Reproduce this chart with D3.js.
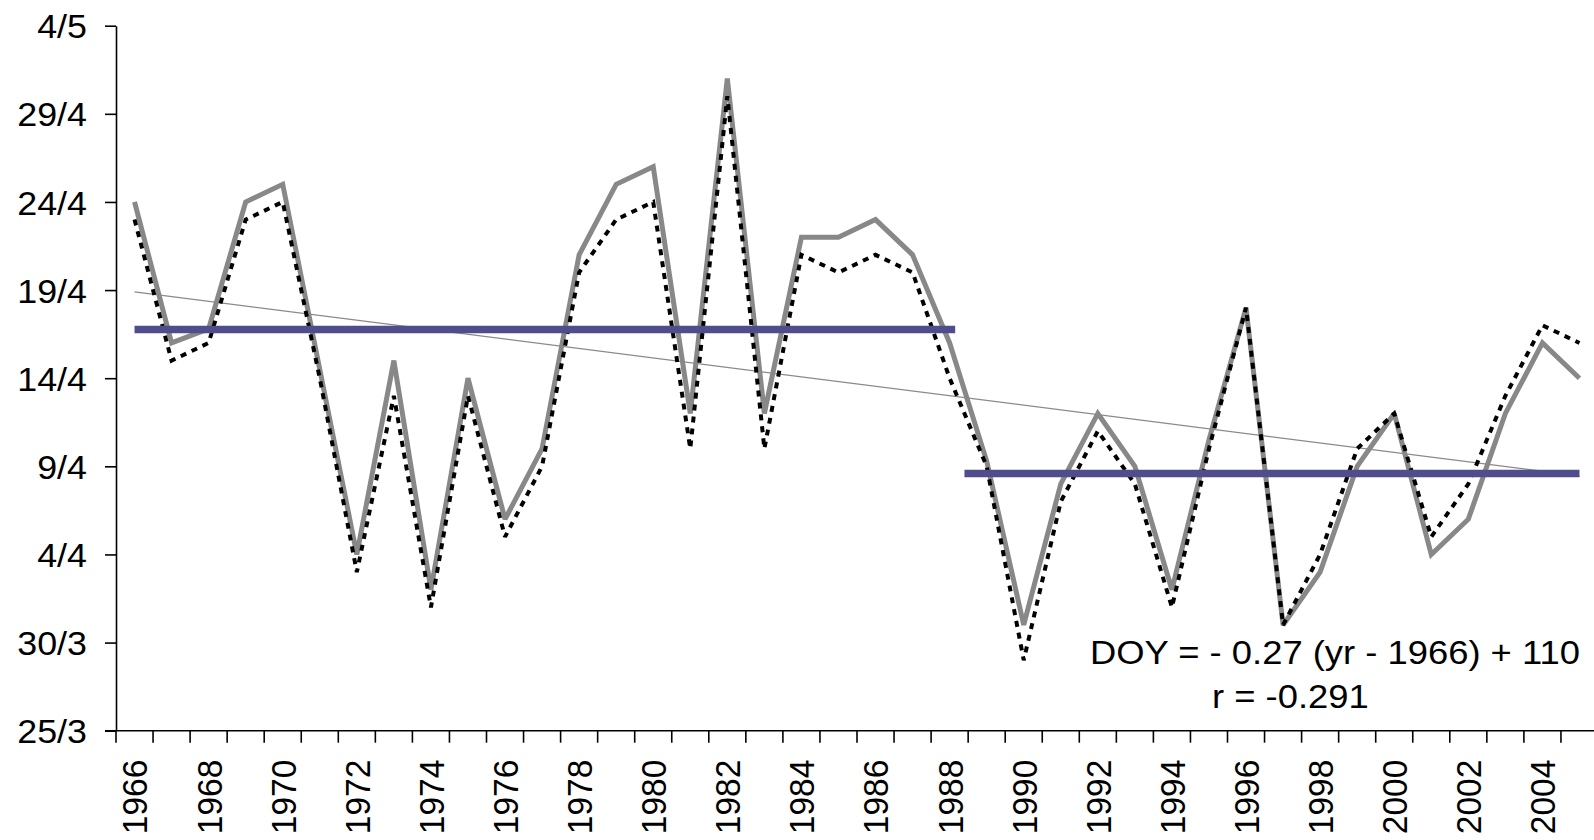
<!DOCTYPE html>
<html>
<head>
<meta charset="utf-8">
<script src="https://cdn.jsdelivr.net/npm/d3@7"></script>
<style>
  html, body { margin: 0; padding: 0; background: #ffffff; }
  svg { display: block; }
  text { font-family: "Liberation Sans", Arial, sans-serif; fill: #000; }
</style>
</head>
<body>
<script>
// ---------------- data ----------------
const years = [1966,1967,1968,1969,1970,1971,1972,1973,1974,1975,
               1976,1977,1978,1979,1980,1981,1982,1983,1984,1985,
               1986,1987,1988,1989,1990,1991,1992,1993,1994,1995,
               1996,1997,1998,1999,2000,2001,2002,2003,2004,2005];

// day of year (solid grey series)
const solidSeries = [114,106,106.8,114,115,104.5,94,105,92,104,
                     96,100,111,115,116,102,121,102,112,112,
                     113,111,106,99.3,90,98,102,99,92,100.5,
                     108,90,93,99,102,94,96,102,106,104];

// day of year (dashed black series)
const dashedSeries = [113,105,106,113,114,104,93,103,91,103,
                      95,99,110,113,114,100,120,100,111,110,
                      111,110,104,99,88,97,101,98,91,100,
                      108,90,94,100,102,95,98,103,107,106];

// linear trend (end points)
const trendYears  = [1966, 2005];
const trendValues = [108.9, 98.45];

// period means (blue lines)
const meanStart  = [1966, 1988.4];
const meanEnd    = [1988.15, 2005];
const meanValues = [106.77, 98.6];

// y-axis ticks (day of year) and labels
const yTickValues = [84,89,94,99,104,109,114,119,124];
const yTickLabels = ["25/3","30/3","4/4","9/4","14/4","19/4","24/4","29/4","4/5"];

// x-axis labelled years
const xLabelYears = [1966,1968,1970,1972,1974,1976,1978,1980,1982,1984,
                     1986,1988,1990,1992,1994,1996,1998,2000,2002,2004];

const equationText = ["DOY = - 0.27 (yr - 1966) + 110", "r = -0.291"];

// ---------------- layout ----------------
const W = 1594, H = 840;
const plotLeft = 116, plotTop = 25.7, plotBottom = 730.7;
const band = 37.05;
const SX = 1.07; // horizontal stretch of the original text

const svg = d3.select("body").append("svg")
  .attr("width", W).attr("height", H)
  .style("background", "#fff");

const x = d3.scaleBand().domain(years)
  .range([plotLeft, plotLeft + band * years.length]).paddingInner(0).paddingOuter(0);
const xc = d => x(d) + x.bandwidth() / 2;
const xl = d3.scaleLinear().domain([years[0], years[years.length - 1]])
  .range([xc(years[0]), xc(years[years.length - 1])]);
const y = d3.scaleLinear().domain([84, 124]).range([plotBottom, plotTop]);

// ---------------- axes ----------------
const yAxis = d3.axisLeft(y).tickValues(yTickValues)
  .tickFormat((d, i) => yTickLabels[i]).tickSize(11).tickPadding(0).tickSizeOuter(0);
const gy = svg.append("g").attr("transform", `translate(${plotLeft},0)`).call(yAxis);
gy.select(".domain").attr("stroke", "#000").attr("stroke-width", 1.6);
gy.selectAll(".tick line").attr("stroke", "#000").attr("stroke-width", 1.6);
gy.selectAll(".tick text")
  .attr("x", -29 / SX).attr("dy", "0.36em")
  .attr("transform", `scale(${SX},1)`)
  .style("font-size", "33.5px")
  .style("font-family", '"Liberation Sans", Arial, sans-serif')
  .attr("fill", "#000");

// x axis: line + tick marks at band boundaries
const gx = svg.append("g");
gx.append("line")
  .attr("x1", plotLeft - 11).attr("x2", x.range()[1])
  .attr("y1", plotBottom).attr("y2", plotBottom)
  .attr("stroke", "#000").attr("stroke-width", 1.6);
gx.selectAll("line.xt").data(years.concat([null]))
  .enter().append("line").attr("class", "xt")
  .attr("x1", (d, i) => plotLeft + i * x.step())
  .attr("x2", (d, i) => plotLeft + i * x.step())
  .attr("y1", plotBottom).attr("y2", plotBottom + 12)
  .attr("stroke", "#000").attr("stroke-width", 1.6);
gx.selectAll("text").data(xLabelYears).enter().append("text")
  .attr("transform", d => `translate(${xc(d)},${plotBottom + 29}) scale(${SX},1) rotate(-90)`)
  .attr("text-anchor", "end").attr("dy", "0.36em")
  .style("font-size", "33.5px")
  .text(d => d);

// ---------------- marks ----------------
const line = d3.line().x(d => xc(d[0])).y(d => y(d[1]));

// trend line
svg.append("line")
  .attr("x1", xl(trendYears[0])).attr("y1", y(trendValues[0]))
  .attr("x2", xl(trendYears[1])).attr("y2", y(trendValues[1]))
  .attr("stroke", "#8a8a8a").attr("stroke-width", 1.3);

// solid grey series
svg.append("path")
  .datum(years.map((yr, i) => [yr, solidSeries[i]]))
  .attr("d", line)
  .attr("fill", "none").attr("stroke", "#888888")
  .attr("stroke-width", 5).attr("stroke-linejoin", "miter").attr("stroke-miterlimit", 2);

// dashed black series
svg.append("path")
  .datum(years.map((yr, i) => [yr, dashedSeries[i]]))
  .attr("d", line)
  .attr("fill", "none").attr("stroke", "#000")
  .attr("stroke-width", 4).attr("stroke-dasharray", "6,6")
  .attr("stroke-linejoin", "miter").attr("stroke-miterlimit", 2);

// period means
svg.selectAll("line.mean").data(meanValues).enter().append("line")
  .attr("class", "mean")
  .attr("x1", (d, i) => xl(meanStart[i]))
  .attr("x2", (d, i) => xl(meanEnd[i]))
  .attr("y1", d => y(d)).attr("y2", d => y(d))
  .attr("stroke", "#4f4d8c").attr("stroke-width", 7.5);

// ---------------- annotation ----------------
const ann = [[1090, 664], [1212, 708]];
equationText.forEach((t, i) => {
  svg.append("text")
    .attr("transform", `translate(${ann[i][0]},${ann[i][1]}) scale(${SX},1)`)
    .style("font-size", "34px")
    .text(t);
});
</script>
</body>
</html>
